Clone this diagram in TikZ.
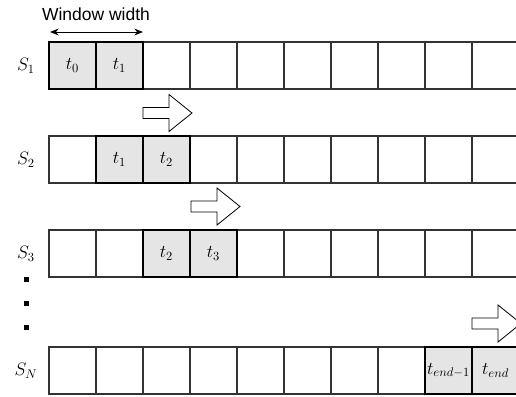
\documentclass[tikz,border=0pt]{standalone}
\usepackage{fontspec}
\usetikzlibrary{arrows.meta}
\newfontfamily\labelfont{Liberation Sans}
\begin{document}
\begin{tikzpicture}[x=0.8pt,y=-0.8pt,
  cell/.style={draw=black!80, line width=0.9pt, minimum size=37.6pt, inner sep=0pt, outer sep=0pt, anchor=north west, font=\Large},
  win/.style={cell, draw=black, line width=1.9pt, fill=black!10},
  slide/.style={draw=black, line width=0.65pt, fill=white, line join=miter},
  rowlab/.style={font=\Large, inner sep=0pt},
  dotmark/.style={fill=black, minimum size=4pt, inner sep=0pt, outer sep=0pt},
  wlabel/.style={font=\labelfont\fontsize{14}{16}\selectfont, inner sep=0pt},
  slidearrow/.pic={\draw[slide] (0,-5.5) -- (26,-5.5) -- (26,-18.5) -- (49,0) -- (26,18.5) -- (26,5.5) -- (0,5.5) -- cycle;}]
\useasboundingbox (0,0) rectangle (516,396);
\clip (0,0) rectangle (516,396);
% row 1
\foreach \i in {2,...,9} \node[cell] (a\i) at ({49+47*\i},42) {};
\node[win] (a0) at (49,42) {$t_0$};
\node[win] (a1) at (96,42) {$t_1$};
% row 2
\foreach \i in {0,3,4,5,6,7,8,9} \node[cell] (b\i) at ({49+47*\i},136) {};
\node[win] (b1) at (96,136) {$t_1$};
\node[win] (b2) at (143,136) {$t_2$};
% row 3
\foreach \i in {0,1,4,5,6,7,8,9} \node[cell] (c\i) at ({49+47*\i},230) {};
\node[win] (c2) at (143,230) {$t_2$};
\node[win] (c3) at (190,230) {$t_3$};
% row N
\foreach \i in {0,...,7} \node[cell] (d\i) at ({49+47*\i},347) {};
\node[win] (d8) at (425,347) {$t_{end-1}$};
\node[win] (d9) at (472,347) {$t_{end}$};
% row labels
\node[rowlab] (l1) at (26,65.5) {$S_1$};
\node[rowlab] (l2) at (26,159.5) {$S_2$};
\node[rowlab] (l3) at (26,253.5) {$S_3$};
\node[rowlab] (lN) at (26,370.5) {$S_N$};
% dots
\node[dotmark] (p1) at (26,279) {};
\node[dotmark] (p2) at (26,303) {};
\node[dotmark] (p3) at (26,327) {};
% sliding arrows
\pic at (143,113) {slidearrow};
\pic at (191,206.5) {slidearrow};
\pic at (472,323.5) {slidearrow};
% window width
\coordinate (wl) at (50,32);
\coordinate (wr) at (143,32);
\draw[line width=0.75pt, {Stealth[length=7pt,width=5.5pt]}-{Stealth[length=7pt,width=5.5pt]}] (wl) -- (wr);
\node[wlabel] (wt) at (96,14) {Window width};
\end{tikzpicture}
\end{document}
